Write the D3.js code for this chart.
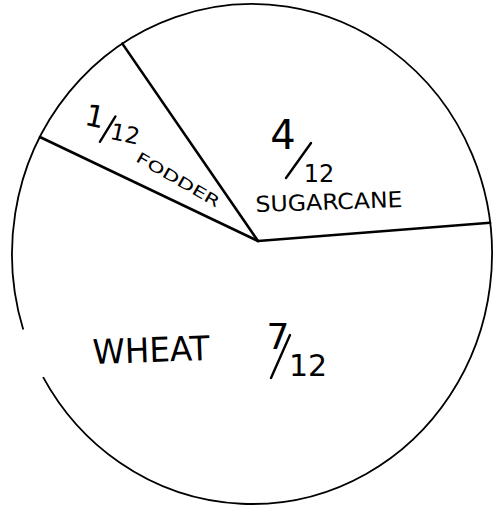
<!DOCTYPE html>
<html>
<head>
<meta charset="utf-8">
<script src="https://cdn.jsdelivr.net/npm/d3@7"></script>
<style>
  html, body { margin: 0; padding: 0; background: #fff; }
  svg { display: block; }
</style>
</head>
<body>
<svg id="chart" width="495" height="509"></svg>
<script>
// Data (twelfths of the land)
const categories = ["Fodder", "Sugarcane", "Wheat"];
const values = [1, 4, 7];
const numerators = ["1", "4", "7"];
const denominators = ["12", "12", "12"];
const names = ["FODDER", "SUGARCANE", "WHEAT"];

const deg = Math.PI / 180;
const svg = d3.select("#chart");

// Hand-drawn circle is slightly elliptical and the spokes meet off-centre
const ell = { cx: 252, cy: 254, rx: 240, ry: 250 };
const hub = { x: 258, y: 241 };

// Label layout: absolute anchor point for each label, plus glyph tweaks
const layout = {
  Fodder: {
    frac: { x: 112, y: 128, rot: 12, num: [-19, -8, 30], slash: [-9, 16, 1, -12], den: [14, 3, 23] },
    name: { x: 178, y: 180, size: 15, len: 94, rot: 30 }
  },
  Sugarcane: {
    frac: { x: 305, y: 152, rot: 0, num: [-22, -17, 40], slash: [-19, 26, 6, -9], den: [14, 22, 24] },
    name: { x: 329, y: 202, size: 22, len: 147, rot: -2 }
  },
  Wheat: {
    frac: { x: 297, y: 352, rot: 0, num: [-19, -16, 36], slash: [-26, 26, -7, -17], den: [11, 13, 30] },
    name: { x: 151, y: 350, size: 34, len: 117, rot: -2 }
  }
};

const data = categories.map((c, i) => ({
  category: c,
  value: values[i],
  num: numerators[i],
  den: denominators[i],
  name: names[i]
}));

const pie = d3.pie()
  .sort(null)
  .value((d) => d.value)
  .startAngle(-64.5 * deg)
  .endAngle(295.5 * deg);

const arcs = pie(data);

// where a ray from the hub (d3 angle: 0 = up, clockwise) meets the outline
function rimPoint(a) {
  const dx = Math.sin(a), dy = -Math.cos(a);
  const ox = (hub.x - ell.cx) / ell.rx, oy = (hub.y - ell.cy) / ell.ry;
  const ux = dx / ell.rx, uy = dy / ell.ry;
  const A = ux * ux + uy * uy;
  const B = 2 * (ox * ux + oy * uy);
  const C = ox * ox + oy * oy - 1;
  const t = (-B + Math.sqrt(B * B - 4 * A * C)) / (2 * A);
  return [hub.x + t * dx, hub.y + t * dy];
}

// Outline (with the small gap on the left as in the sketch)
const outline = d3.path();
const gapEnd = 252.4 * deg, gapStart = 240.5 * deg + 2 * Math.PI;
outline.arc(0, 0, ell.rx, gapEnd - Math.PI / 2, gapStart - Math.PI / 2);

svg.append("g")
  .attr("transform", `translate(${ell.cx},${ell.cy}) scale(1,${ell.ry / ell.rx})`)
  .append("path")
  .attr("d", outline.toString())
  .attr("fill", "none")
  .attr("stroke", "#000")
  .attr("stroke-width", 1.8)
  .attr("vector-effect", "non-scaling-stroke");

// Spokes at each slice boundary
svg.append("g")
  .selectAll("line")
  .data(arcs)
  .join("line")
  .attr("x1", hub.x)
  .attr("y1", hub.y)
  .attr("x2", (d) => rimPoint(d.startAngle)[0])
  .attr("y2", (d) => rimPoint(d.startAngle)[1])
  .attr("stroke", "#000")
  .attr("stroke-width", 2.6)
  .attr("stroke-linecap", "round");

const font = "'DejaVu Sans', sans-serif";

// Fractions
const fracs = svg.append("g")
  .selectAll("g")
  .data(arcs)
  .join("g")
  .attr("transform", (d) => {
    const L = layout[d.data.category].frac;
    return `translate(${L.x},${L.y}) rotate(${L.rot})`;
  });

fracs.append("text")
  .attr("x", (d) => layout[d.data.category].frac.num[0])
  .attr("y", (d) => layout[d.data.category].frac.num[1])
  .attr("font-size", (d) => layout[d.data.category].frac.num[2])
  .attr("font-family", font)
  .attr("text-anchor", "middle")
  .attr("dominant-baseline", "central")
  .text((d) => d.data.num);

fracs.append("line")
  .attr("x1", (d) => layout[d.data.category].frac.slash[0])
  .attr("y1", (d) => layout[d.data.category].frac.slash[1])
  .attr("x2", (d) => layout[d.data.category].frac.slash[2])
  .attr("y2", (d) => layout[d.data.category].frac.slash[3])
  .attr("stroke", "#000")
  .attr("stroke-width", 2.4)
  .attr("stroke-linecap", "round");

fracs.append("text")
  .attr("x", (d) => layout[d.data.category].frac.den[0])
  .attr("y", (d) => layout[d.data.category].frac.den[1])
  .attr("font-size", (d) => layout[d.data.category].frac.den[2])
  .attr("font-family", font)
  .attr("text-anchor", "middle")
  .attr("dominant-baseline", "central")
  .text((d) => d.data.den);

// Crop names
svg.append("g")
  .selectAll("text")
  .data(arcs)
  .join("text")
  .attr("transform", (d) => {
    const L = layout[d.data.category].name;
    return `translate(${L.x},${L.y}) rotate(${L.rot})`;
  })
  .attr("font-size", (d) => layout[d.data.category].name.size)
  .attr("font-family", font)
  .attr("text-anchor", "middle")
  .attr("dominant-baseline", "central")
  .attr("textLength", (d) => layout[d.data.category].name.len)
  .attr("lengthAdjust", "spacingAndGlyphs")
  .text((d) => d.data.name);
</script>
</body>
</html>
